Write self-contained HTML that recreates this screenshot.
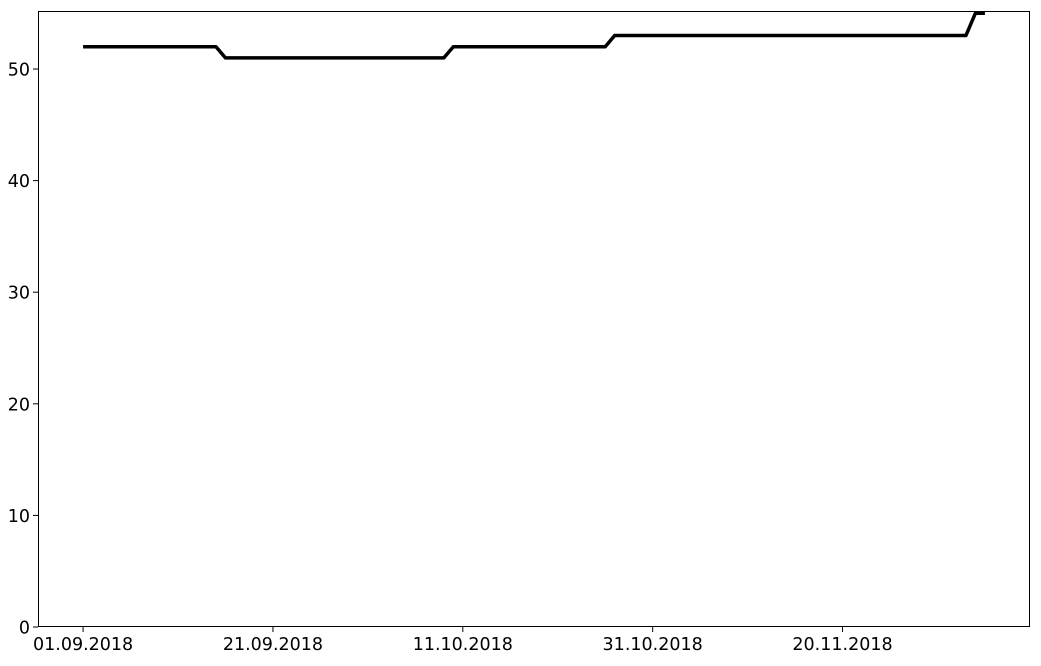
<!DOCTYPE html>
<html><head><meta charset="utf-8"><style>
body{margin:0;background:#fff;}
svg text{font-family:"DejaVu Sans","Liberation Sans",sans-serif;font-size:17.5px;fill:#000;}
</style></head><body>
<svg id="chart" width="1041" height="661" xmlns="http://www.w3.org/2000/svg"></svg>
<script>
const values=[52,52,52,52,52,52,52,52,52,52,52,52,52,52,52,
51,51,51,51,51,51,51,51,51,51,51,51,51,51,51,51,51,51,51,51,51,51,51,51,
52,52,52,52,52,52,52,52,52,52,52,52,52,52,52,52,52,
53,53,53,53,53,53,53,53,53,53,53,53,53,53,53,53,53,53,53,53,53,53,53,53,53,53,53,53,53,53,53,53,53,53,53,53,53,53,
55,55];
const xTickIdx=[0,20,40,60,80];
const xTickLabels=["01.09.2018","21.09.2018","11.10.2018","31.10.2018","20.11.2018"];
const yTicks=[0,10,20,30,40,50];

const svg=document.getElementById('chart');
const NS='http://www.w3.org/2000/svg';
const L=38,R=1030,T=11,B=627;
const n=values.length;
const xmin=-0.05*(n-1),xmax=(n-1)*1.05;
const vmax=Math.max(...values),vmin=Math.min(...values);
const ymin=0,ymax=vmax+0.05*(vmax-vmin);
const x=i=>L+(i-xmin)/(xmax-xmin)*(R-L);
const y=v=>B-(v-ymin)/(ymax-ymin)*(B-T);
function mk(tag,attrs){const e=document.createElementNS(NS,tag);for(const k in attrs)e.setAttribute(k,attrs[k]);svg.appendChild(e);return e;}

let d=values.map((v,i)=>(i?'L':'M')+x(i).toFixed(2)+' '+y(v).toFixed(2)).join(' ');
const line=mk('path',{d:d,fill:'none',stroke:'#000','stroke-width':3.5,'stroke-linejoin':'round'});



const frame=mk('rect',{x:L+0.5,y:T+0.5,width:R-L-1,height:B-T-1,fill:'none',stroke:'#000','stroke-width':1});



yTicks.forEach(v=>{
  const tk=mk('line',{x1:L-5,x2:L,y1:y(v),y2:y(v),stroke:'#000'});
  
  
  const t=mk('text',{x:L-8,y:y(v)+6.5,'text-anchor':'end'});
  t.textContent=v;
  
  
});
xTickIdx.forEach((i,k)=>{
  const tk=mk('line',{x1:x(i),x2:x(i),y1:B,y2:B+5,stroke:'#000'});
  
  
  const t=mk('text',{x:x(i),y:B+23,'text-anchor':'middle'});
  t.textContent=xTickLabels[k];
  
  
});
</script>
</body></html>
